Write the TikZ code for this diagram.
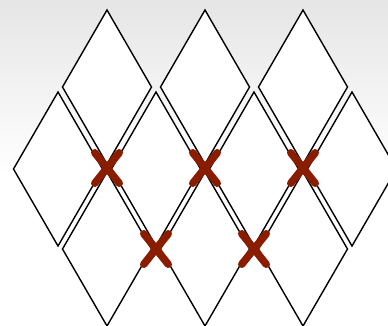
\documentclass[tikz,border=0pt]{standalone}
\usetikzlibrary{shapes.geometric, shapes.misc, calc}
\definecolor{rosso}{RGB}{138,28,0}

\begin{document}
\begin{tikzpicture}[
  x=1pt, y=-1pt,
  rombo/.style={diamond, draw=black, fill=white, line width=1.4pt, inner sep=0pt, outer sep=0pt,
                minimum width=89pt, minimum height=154pt},
  croce/.style={cross out, draw=rosso, line width=7.5pt, line cap=round, inner sep=0pt,
                minimum width=17pt, minimum height=23pt}
]
\useasboundingbox (0,0) rectangle (388,325);
\clip (0,0) rectangle (388,325);
% sfondo
\fill[top color=black!10, bottom color=white] (0,0) rectangle (388,175);

\foreach \c/\x in {1/107, 2/205, 3/303} {
  \node[rombo] (T\c) at (\x,87) {};
  \node[rombo] (B\c) at (\x,249) {};
}
\foreach \c/\x in {1/58, 2/156, 3/254, 4/352} {
  \node[rombo] (M\c) at (\x,169) {};
}

% incroci
\foreach \c in {1,2,3}
  \node[croce] (X\c) at ($(T\c.south)!0.5!(B\c.north)$) {};
\node[croce] (Y1) at ($(B1.east)!0.5!(B2.west)$) {};
\node[croce] (Y2) at ($(B2.east)!0.5!(B3.west)$) {};
\end{tikzpicture}
\end{document}
